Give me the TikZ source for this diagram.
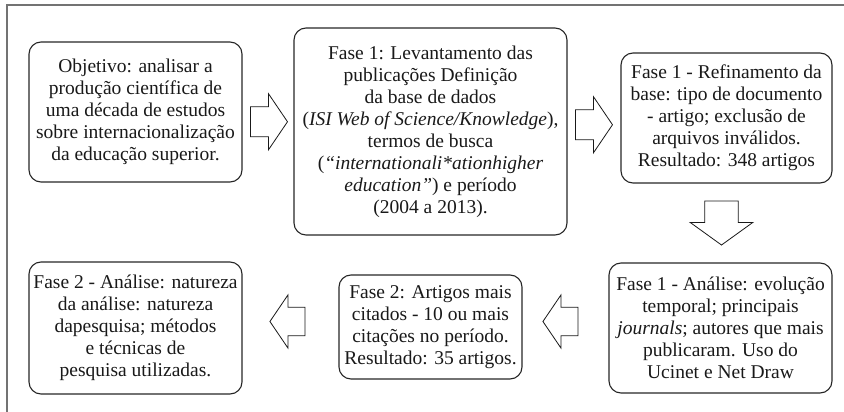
\documentclass[tikz,border=0pt]{standalone}
\usepackage{fontspec}
\setmainfont{Liberation Serif}
\usetikzlibrary{calc}

\begin{document}
\begin{tikzpicture}[
    x=1pt, y=-1pt,
    box/.style={draw=black!85, line width=1.1pt, rounded corners=12pt, align=center,
                inner sep=0pt, text=black!90, font=\fontsize{19.5}{22}\selectfont},
    blk/.style={draw=black!90, line width=0.8pt, fill=white, line join=miter},
    blkarrow/.pic={\draw[blk] (-18.5,-15) -- (-0.5,-15) -- (-0.5,-28) -- (18.5,0)
                   -- (-0.5,28) -- (-0.5,15) -- (-18.5,15) -- cycle;}
]

% bounding box = image
\path[use as bounding box] (0,0) rectangle (844,412);

% moldura (só topo e esquerda)
\draw[black!55, line width=1.3pt] (7,412) -- (7,5) -- (844,5);

% caixas
\node[box, minimum width=213pt, minimum height=140pt] (obj) at (135.5,112)
  {Objetivo: analisar a\\ produção científica de\\ uma década de estudos\\
   sobre internacionalização\\ da educação superior.};
\node[box, minimum width=273pt, minimum height=207pt] (lev) at (430.5,131.5)
  {Fase 1: Levantamento das\\ publicações Definição\\ da base de dados\\
   (\textit{ISI Web of Science/Knowledge}),\\ termos de busca\\
   (\textit{“internationali*ationhigher}\\ \textit{education”}) e período\\ (2004 a 2013).};
\node[box, minimum width=211pt, minimum height=130pt] (ref) at (726.5,118)
  {Fase 1 - Refinamento da\\ base: tipo de documento\\ - artigo; exclusão de\\
   arquivos inválidos.\\ Resultado: 348 artigos};
\node[box, minimum width=223pt, minimum height=130pt] (ana1) at (720.5,328)
  {Fase 1 - Análise: evolução\\ temporal; principais\\ \textit{journals}; autores que mais\\
   publicaram. Uso do\\ Ucinet e Net Draw};
\node[box, minimum width=183pt, minimum height=104pt] (cit) at (430.5,327)
  {Fase 2: Artigos mais\\ citados - 10 ou mais\\ citações no período.\\ Resultado: 35 artigos.};
\node[box, minimum width=213pt, minimum height=132pt] (ana2) at (135.5,328)
  {Fase 2 - Análise: natureza\\ da análise: natureza\\ dapesquisa; métodos\\
   e técnicas de\\ pesquisa utilizadas.};

% setas largas entre as caixas
\pic at ($(obj.east)!.5!(lev.west)+(1,0)$) {blkarrow};
\pic at ($(lev.east)!.5!(ref.west)$) {blkarrow};
\pic[rotate=-90, xscale=1.19, yscale=1.12] at ($(ref.south)!.5!(ana1.north)+(-2,0)$) {blkarrow};
\pic[rotate=180, xscale=0.95, yscale=0.95] at ($(ana1.west)!.5!(cit.east)+(-5,-6)$) {blkarrow};
\pic[rotate=180, xscale=0.95, yscale=0.95] at ($(cit.west)!.5!(ana2.east)+(-3,-6)$) {blkarrow};

\end{tikzpicture}
\end{document}
